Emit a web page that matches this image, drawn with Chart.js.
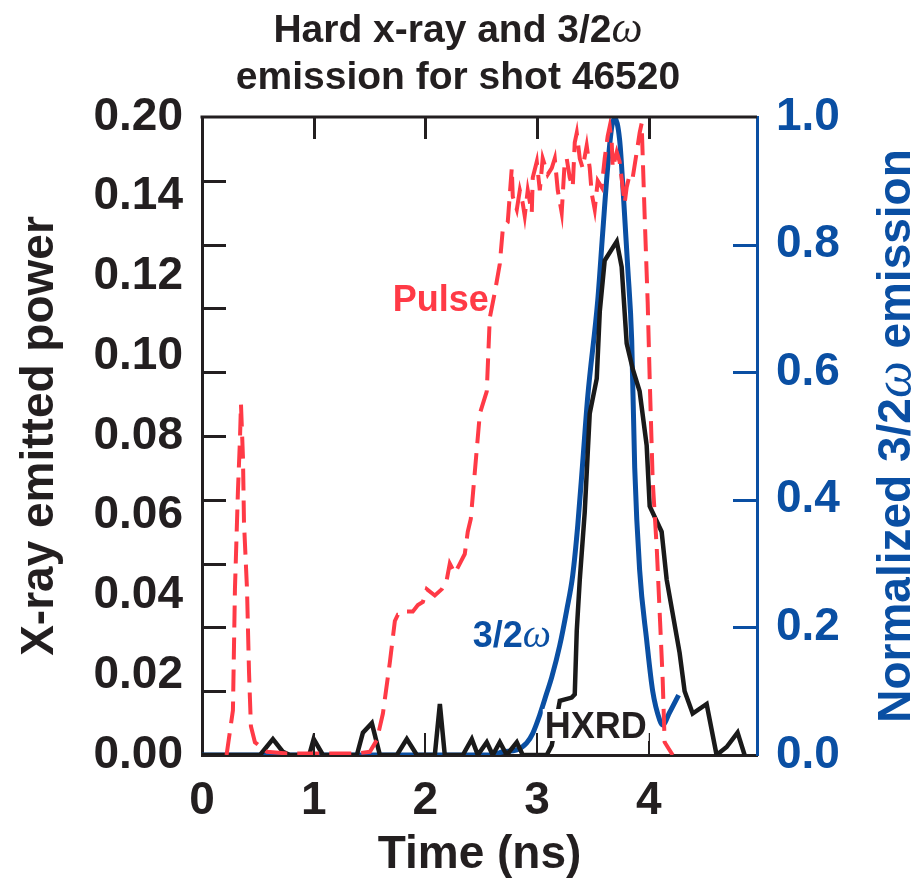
<!DOCTYPE html>
<html>
<head>
<meta charset="utf-8">
<script src="https://cdn.jsdelivr.net/npm/chart.js@4.4.1/dist/chart.umd.min.js"></script>
<style>
  html, body { margin: 0; padding: 0; background: #fff; }
</style>
</head>
<body>
<canvas id="chart" width="913" height="883"></canvas>
<script>
// laser pulse shape (dashed red), left axis
const pulseTime = [0.22, 0.277, 0.295, 0.322, 0.340, 0.349, 0.367, 0.376, 0.403, 0.421, 0.438, 0.474, 0.582, 0.761, 1.387,
  1.503, 1.566, 1.620, 1.682, 1.727, 1.754, 1.790, 1.834, 1.888, 1.933, 1.978, 2.013, 2.085, 2.148, 2.192, 2.219, 2.264,
  2.309, 2.353, 2.380, 2.407, 2.488, 2.550, 2.577, 2.622, 2.667, 2.694, 2.738, 2.774, 2.783, 2.819, 2.846, 2.872, 2.890,
  2.917, 2.953, 2.962, 2.998, 3.025, 3.051, 3.096, 3.132, 3.159, 3.186, 3.221, 3.248, 3.266, 3.293, 3.320, 3.338, 3.356,
  3.383, 3.409, 3.445, 3.472, 3.490, 3.517, 3.544, 3.579, 3.606, 3.633, 3.651, 3.669, 3.678, 3.714, 3.740, 3.767, 3.785,
  3.803, 3.830, 3.857, 3.893, 3.919, 3.937, 3.964, 3.991, 4.009, 4.036, 4.072, 4.098, 4.125, 4.143, 4.215];
const pulsePower = [0, 0.014, 0.052, 0.083, 0.099, 0.110, 0.093, 0.073, 0.052, 0.026, 0.009, 0.004, 0.001, 0.0005, 0.0005,
  0.001, 0.0047, 0.013, 0.029, 0.042, 0.044, 0.044, 0.045, 0.045, 0.047, 0.048, 0.052, 0.050, 0.052, 0.055, 0.060, 0.057,
  0.060, 0.063, 0.070, 0.074, 0.107, 0.114, 0.137, 0.145, 0.154, 0.165, 0.167, 0.184, 0.175, 0.171, 0.177, 0.173, 0.169,
  0.177, 0.170, 0.181, 0.186, 0.177, 0.187, 0.182, 0.184, 0.187, 0.177, 0.170, 0.186, 0.187, 0.181, 0.178, 0.192, 0.195,
  0.187, 0.184, 0.191, 0.184, 0.176, 0.171, 0.180, 0.178, 0.187, 0.194, 0.197, 0.192, 0.184, 0.189, 0.186, 0.178, 0.173,
  0.178, 0.182, 0.181, 0.189, 0.195, 0.198, 0.169, 0.142, 0.118, 0.086, 0.065, 0.045, 0.024, 0.004, 0];

// hard x-ray detector (black), left axis
const hxrdTime = [0, 0.52, 0.635, 0.725, 0.787, 0.96, 1.0, 1.083, 1.387, 1.441, 1.521, 1.593, 1.745, 1.834, 1.924, 2.085,
  2.130, 2.174, 2.336, 2.416, 2.470, 2.550, 2.604, 2.667, 2.729, 2.819, 2.872, 3.087, 3.132, 3.204, 3.311, 3.338, 3.356,
  3.383, 3.427, 3.472, 3.535, 3.562, 3.606, 3.714, 3.758, 3.803, 3.857, 3.919, 3.982, 4.009, 4.116, 4.161, 4.277, 4.322,
  4.394, 4.519, 4.608, 4.698, 4.796, 4.859];
const hxrdPower = [0, 0, 0.005, 0.001, 0, 0, 0.005, 0, 0, 0.007, 0.010, 0, 0, 0.005, 0, 0,
  0.016, 0, 0, 0.005, 0, 0.004, 0, 0.004, 0, 0.004, 0, 0, 0.003, 0.017, 0.018, 0.019, 0.039,
  0.055, 0.076, 0.107, 0.118, 0.139, 0.155, 0.161, 0.153, 0.129, 0.121, 0.114, 0.097, 0.078, 0.070, 0.055, 0.032, 0.020,
  0.013, 0.016, 0, 0.0025, 0.007, 0];

// normalized 3/2 omega emission (blue), right axis
const omegaTime = [0, 2.60, 2.694, 2.819, 2.908, 2.962, 3.025, 3.087, 3.132, 3.204, 3.266, 3.320, 3.365, 3.409, 3.454,
  3.544, 3.588, 3.633, 3.669, 3.696, 3.740, 3.767, 3.812, 3.848, 3.875, 3.919, 3.982, 4.036, 4.098, 4.125, 4.188, 4.268];
const omegaSignal = [0, 0, 0.005, 0.008, 0.019, 0.034, 0.063, 0.097, 0.122, 0.172, 0.227, 0.282, 0.36, 0.458, 0.561,
  0.713, 0.818, 0.922, 0.984, 0.998, 0.964, 0.897, 0.765, 0.650, 0.45, 0.29, 0.18, 0.10, 0.055, 0.047, 0.067, 0.094];

// axis ticks
const xTickValues = [0, 1, 2, 3, 4];
const xTickLabels = ['0', '1', '2', '3', '4'];
const leftLabelValues = [0, 0.025, 0.05, 0.075, 0.1, 0.125, 0.15, 0.175, 0.2];
const leftTickLabels = ['0.00', '0.02', '0.04', '0.06', '0.08', '0.10', '0.12', '0.14', '0.20'];
const leftMarkValues = [0.02, 0.04, 0.06, 0.08, 0.10, 0.12, 0.14, 0.16, 0.18];
const rightTickValues = [0, 0.2, 0.4, 0.6, 0.8, 1.0];
const rightTickLabels = ['0.0', '0.2', '0.4', '0.6', '0.8', '1.0'];

const SANS = "'Liberation Sans', Arial, Helvetica, sans-serif";
const SERIF = "'Liberation Serif', 'DejaVu Serif', serif";
const BLACK = '#231f20';
const BLUE = '#0a4fa3';
const RED = '#ff3a46';

function toPoints(xs, ys) {
  return xs.map((x, i) => ({ x: x, y: ys[i] }));
}

// draw text made of several font runs, centred on cx, baseline at by
function drawRuns(ctx, runs, cx, by) {
  let total = 0;
  runs.forEach(r => { ctx.font = r.font; r.w = ctx.measureText(r.text).width; total += r.w; });
  let x = cx - total / 2;
  ctx.textAlign = 'left';
  ctx.textBaseline = 'alphabetic';
  runs.forEach(r => {
    ctx.font = r.font;
    ctx.fillStyle = r.color;
    ctx.fillText(r.text, x, by);
    x += r.w;
  });
  return total;
}

const framePlugin = {
  id: 'frame',
  afterDatasetsDraw(chart) {
    const ctx = chart.ctx;
    const a = chart.chartArea;
    const xs = chart.scales.x, ys = chart.scales.y, y1 = chart.scales.y1;
    ctx.save();
    ctx.lineCap = 'butt';
    // top frame line
    ctx.strokeStyle = BLACK;
    ctx.lineWidth = 3;
    ctx.beginPath();
    ctx.moveTo(a.left - 1.5, a.top);
    ctx.lineTo(a.right, a.top);
    ctx.stroke();
    // left inward ticks
    ctx.beginPath();
    leftMarkValues.forEach(v => {
      const y = Math.round(ys.getPixelForValue(v)) + 0.5;
      ctx.moveTo(a.left, y);
      ctx.lineTo(a.left + 24, y);
    });
    // top inward ticks
    xTickValues.slice(1).forEach(v => {
      const x = Math.round(xs.getPixelForValue(v)) + 0.5;
      ctx.moveTo(x, a.top);
      ctx.lineTo(x, a.top + 22);
    });
    ctx.stroke();
    // bottom inward ticks (thinner)
    ctx.lineWidth = 2;
    ctx.beginPath();
    xTickValues.slice(1).forEach(v => {
      const x = Math.round(xs.getPixelForValue(v));
      ctx.moveTo(x, a.bottom);
      ctx.lineTo(x, a.bottom - 22);
    });
    ctx.stroke();
    // right inward ticks, blue
    ctx.strokeStyle = BLUE;
    ctx.lineWidth = 3;
    ctx.beginPath();
    rightTickValues.slice(1, -1).forEach(v => {
      const y = Math.round(y1.getPixelForValue(v)) + 0.5;
      ctx.moveTo(a.right, y);
      ctx.lineTo(a.right - 24, y);
    });
    ctx.stroke();
    ctx.restore();
  },
  afterDraw(chart) {
    const ctx = chart.ctx;
    const a = chart.chartArea;
    const xs = chart.scales.x, ys = chart.scales.y;
    ctx.save();

    // title, two lines
    const tf = 'bold 39px ' + SANS;
    drawRuns(ctx, [
      { text: 'Hard x-ray and 3/2', font: tf, color: BLACK },
      { text: '\u03c9', font: 'italic 44px ' + SERIF, color: BLACK }
    ], 458, 42);
    drawRuns(ctx, [{ text: 'emission for shot 46520', font: tf, color: BLACK }], 458, 89);

    // right axis title, reading upward
    const rf = 'bold 46px ' + SANS;
    ctx.save();
    ctx.translate(893 + 16.5, (a.top + a.bottom) / 2);
    ctx.rotate(-Math.PI / 2);
    drawRuns(ctx, [
      { text: 'Normalized 3/2', font: rf, color: BLUE },
      { text: '\u03c9', font: 'italic 52px ' + SERIF, color: BLUE },
      { text: ' emission', font: rf, color: BLUE }
    ], 0, 0);
    ctx.restore();

    // curve labels
    const lf = 'bold 36px ' + SANS;
    const cap = 13;
    drawRuns(ctx, [{ text: 'Pulse', font: lf, color: RED }],
      xs.getPixelForValue(2.139), ys.getPixelForValue(0.1433) + cap);
    drawRuns(ctx, [
      { text: '3/2', font: lf, color: BLUE },
      { text: '\u03c9', font: 'italic 40px ' + SERIF, color: BLUE }
    ], xs.getPixelForValue(2.774), ys.getPixelForValue(0.0379) + cap);

    const hx = xs.getPixelForValue(3.526), hy = ys.getPixelForValue(0.0094);
    ctx.font = lf;
    const hw = ctx.measureText('HXRD').width;
    ctx.fillStyle = '#ffffff';
    ctx.fillRect(hx - hw / 2 - 2, hy - 16, hw + 4, 32);
    drawRuns(ctx, [{ text: 'HXRD', font: lf, color: BLACK }], hx, hy + cap);

    ctx.restore();
  }
};

const tickFont = { family: SANS, size: 46, weight: 'bold', lineHeight: 1.2 };

new Chart(document.getElementById('chart').getContext('2d'), {
  type: 'line',
  data: {
    datasets: [
      {
        label: 'Pulse',
        data: toPoints(pulseTime, pulsePower),
        yAxisID: 'y',
        borderColor: RED,
        borderWidth: 4,
        borderDash: [22, 10],
        pointRadius: 0,
        tension: 0,
        order: 1
      },
      {
        label: 'HXRD',
        data: toPoints(hxrdTime, hxrdPower),
        yAxisID: 'y',
        borderColor: '#1a1a1a',
        borderWidth: 4.5,
        pointRadius: 0,
        tension: 0,
        order: 2
      },
      {
        label: '3/2\u03c9',
        data: toPoints(omegaTime, omegaSignal),
        yAxisID: 'y1',
        borderColor: BLUE,
        borderWidth: 5,
        pointRadius: 0,
        cubicInterpolationMode: 'monotone',
        order: 3
      }
    ]
  },
  options: {
    responsive: false,
    animation: false,
    layout: { padding: { top: 117, left: 0, right: 0, bottom: 0 } },
    plugins: {
      legend: { display: false },
      tooltip: { enabled: false }
    },
    scales: {
      x: {
        type: 'linear',
        min: 0,
        max: 4.97,
        afterBuildTicks: s => { s.ticks = xTickValues.map(v => ({ value: v })); },
        afterFit: s => { s.height = 128; },
        grid: { display: false, drawTicks: false },
        border: { color: BLACK, width: 3 },
        ticks: {
          callback: (v, i) => xTickLabels[i],
          font: tickFont,
          color: BLACK,
          padding: 19,
          maxRotation: 0,
          autoSkip: false
        },
        title: {
          display: true,
          text: 'Time (ns)',
          font: tickFont,
          color: BLACK,
          padding: { top: 0, bottom: 0 }
        }
      },
      y: {
        position: 'left',
        min: 0,
        max: 0.2,
        afterBuildTicks: s => { s.ticks = leftLabelValues.map(v => ({ value: v })); },
        afterFit: s => { s.width = 202; },
        grid: { display: false, drawTicks: false },
        border: { color: BLACK, width: 3 },
        ticks: {
          callback: (v, i) => leftTickLabels[i],
          font: tickFont,
          color: BLACK,
          padding: 19,
          autoSkip: false
        },
        title: {
          display: true,
          text: 'X-ray emitted power',
          font: tickFont,
          color: BLACK,
          padding: { top: 13, bottom: 0 }
        }
      },
      y1: {
        position: 'right',
        min: 0,
        max: 1,
        afterBuildTicks: s => { s.ticks = rightTickValues.map(v => ({ value: v })); },
        afterFit: s => { s.width = 156; },
        grid: { display: false, drawTicks: false },
        border: { color: BLUE, width: 3 },
        ticks: {
          callback: (v, i) => rightTickLabels[i],
          font: tickFont,
          color: BLUE,
          padding: 19,
          autoSkip: false
        }
      }
    }
  },
  plugins: [framePlugin]
});
</script>
</body>
</html>
